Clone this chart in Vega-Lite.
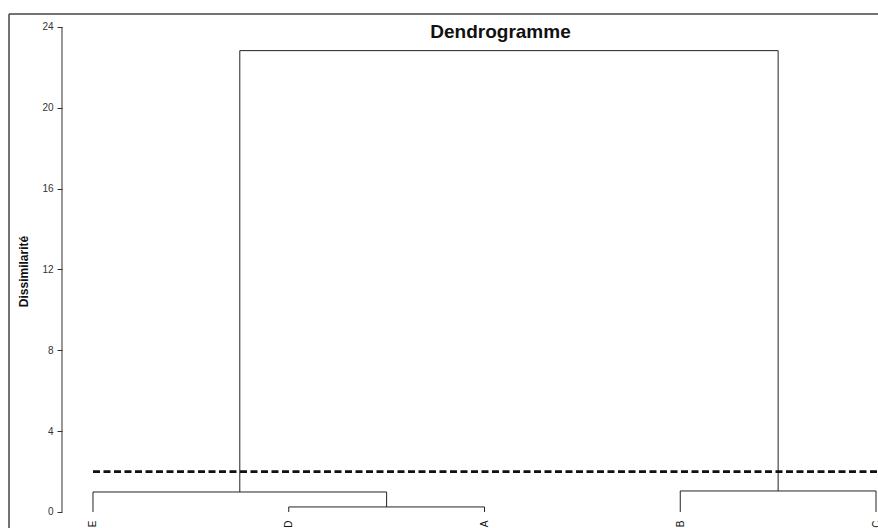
{
  "$schema": "https://vega.github.io/schema/vega-lite/v6.json",
  "width": 869,
  "height": 514,
  "autosize": {"type": "none"},
  "padding": {"left": 9, "top": 14, "right": 0, "bottom": 0},
  "background": "white",
  "config": {"view": {"stroke": null}, "font": "Liberation Sans"},
  "title": {
    "text": "Dendrogramme",
    "fontSize": 19,
    "fontWeight": "bold",
    "font": "Liberation Sans",
    "color": "#111",
    "anchor": "middle",
    "baseline": "alphabetic",
    "offset": 0,
    "dx": 57,
    "dy": 44
  },
  "datasets": {
    "segments": [
      {"x": 2, "x2": 2, "y": 0, "y2": 0.25},
      {"x": 3, "x2": 3, "y": 0, "y2": 0.25},
      {"x": 2, "x2": 3, "y": 0.25, "y2": 0.25},
      {"x": 1, "x2": 1, "y": 0, "y2": 0.99},
      {"x": 2.5, "x2": 2.5, "y": 0.25, "y2": 0.99},
      {"x": 1, "x2": 2.5, "y": 0.99, "y2": 0.99},
      {"x": 4, "x2": 4, "y": 0, "y2": 1.04},
      {"x": 5, "x2": 5, "y": 0, "y2": 1.04},
      {"x": 4, "x2": 5, "y": 1.04, "y2": 1.04},
      {"x": 1.75, "x2": 1.75, "y": 0.99, "y2": 22.83},
      {"x": 4.5, "x2": 4.5, "y": 1.04, "y2": 22.83},
      {"x": 1.75, "x2": 4.5, "y": 22.83, "y2": 22.83}
    ],
    "annotation": [{"cut": 2}]
  },
  "layer": [
    {
      "data": {"name": "annotation"},
      "mark": {"type": "rule", "stroke": "#444", "strokeWidth": 1.5},
      "encoding": {
        "x": {"datum": 0.5709, "type": "quantitative"},
        "y": {"datum": -0.792, "type": "quantitative"},
        "y2": {"datum": 24.643}
      }
    },
    {
      "data": {"name": "annotation"},
      "mark": {"type": "rule", "stroke": "#444", "strokeWidth": 1.5},
      "encoding": {
        "x": {"datum": 0.5709, "type": "quantitative"},
        "x2": {"datum": 5.0102},
        "y": {"datum": 24.643, "type": "quantitative"}
      }
    },
    {
      "data": {"name": "annotation"},
      "mark": {"type": "rule", "stroke": "#333", "strokeWidth": 1},
      "encoding": {
        "x": {"datum": 0.8416, "type": "quantitative"},
        "y": {"datum": 0, "type": "quantitative"},
        "y2": {"datum": 24}
      }
    },
    {
      "data": {"name": "segments"},
      "mark": {"type": "rule", "stroke": "#222", "strokeWidth": 1},
      "encoding": {
        "x": {
          "field": "x",
          "type": "quantitative",
          "scale": {"domain": [0.5709, 5.0102], "nice": false, "zero": false},
          "axis": {
            "orient": "bottom",
            "offset": -16,
            "values": [1, 2, 3, 4, 5],
            "labelExpr": "['', 'E', 'D', 'A', 'B', 'C'][datum.value]",
            "labelAngle": -90,
            "labelFontSize": 10,
            "labelColor": "#111",
            "labelPadding": 8,
            "labelFlush": false,
            "labelOverlap": false,
            "labelBound": false,
            "domain": false,
            "ticks": false,
            "tickSize": 0,
            "grid": false,
            "title": null
          }
        },
        "x2": {"field": "x2"},
        "y": {
          "field": "y",
          "type": "quantitative",
          "scale": {"domain": [-0.792, 24.643], "nice": false, "zero": false},
          "axis": {
            "orient": "left",
            "offset": -53,
            "values": [0, 4, 8, 12, 16, 20, 24],
            "domain": false,
            "grid": false,
            "ticks": true,
            "tickSize": 5,
            "tickColor": "#333",
            "labelFontSize": 10,
            "labelColor": "#333",
            "labelPadding": 4,
            "labelFlush": false,
            "title": "Dissimilarité",
            "titleFontSize": 12,
            "titleFontWeight": "bold",
            "titleColor": "#111",
            "titlePadding": 11
          }
        },
        "y2": {"field": "y2"}
      }
    },
    {
      "data": {"name": "annotation"},
      "mark": {"type": "rule", "stroke": "#111", "strokeWidth": 2.7, "strokeDash": [7, 3.5]},
      "encoding": {
        "x": {"datum": 1, "type": "quantitative"},
        "x2": {"datum": 5.0102},
        "y": {"field": "cut", "type": "quantitative"}
      }
    }
  ]
}
